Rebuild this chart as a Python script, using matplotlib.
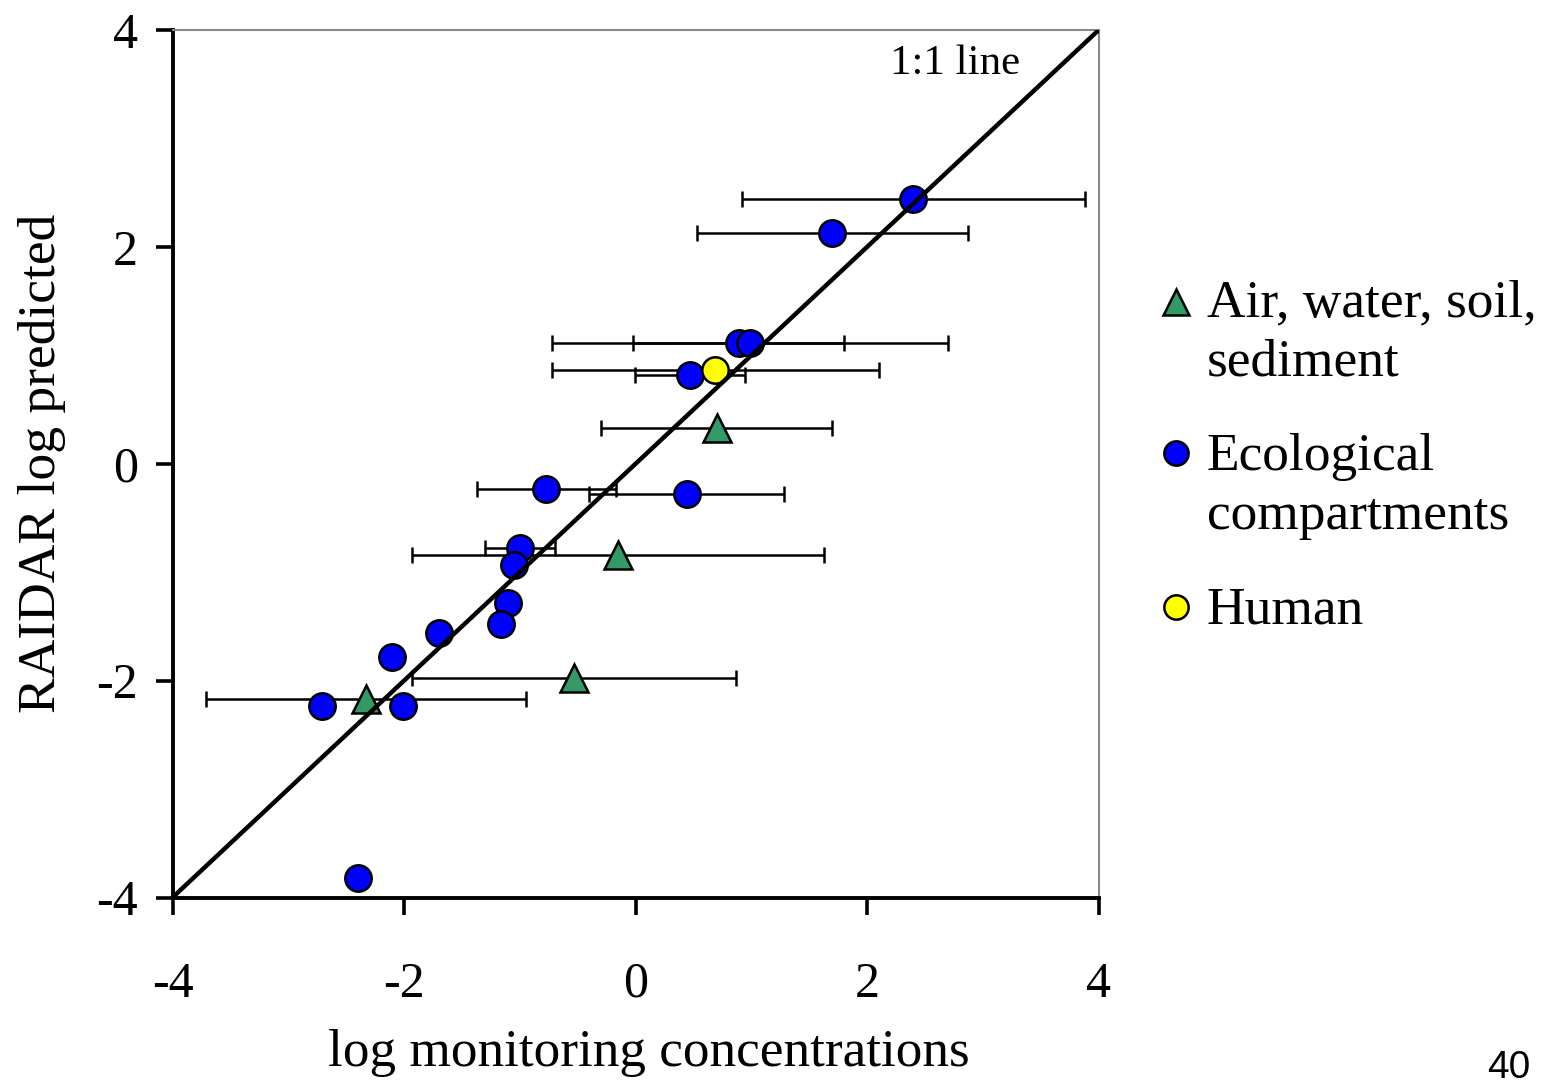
import matplotlib
matplotlib.use("Agg")
import matplotlib.pyplot as plt
import numpy as np

plt.rcParams['font.family'] = ['Liberation Serif', 'DejaVu Serif']
plt.rcParams['axes.unicode_minus'] = False

# Ecological compartments (blue circles)
eco_x = [2.40, 1.70, 0.89, 0.99, 0.47, -0.77, 0.44, -1.00, -1.05, -1.10, -1.16, -1.70, -2.10, -2.71, -2.01, -2.40]
eco_y = [2.44, 2.13, 1.11, 1.11, 0.82, -0.23, -0.28, -0.78, -0.93, -1.28, -1.48, -1.56, -1.78, -2.23, -2.23, -3.82]
eco_xerr = [1.48, 1.17, 0.91, 1.71, 0.475, 0.60, 0.84, 0.30, 0, 0, 0, 0, 0, 0, 0, 0]

# Air, water, soil, sediment (green triangles)
env_x = [0.70, -0.155, -0.53, -2.33]
env_y = [0.33, -0.84, -1.98, -2.17]
env_xerr = [1.00, 1.78, 1.40, 1.38]

# Human (yellow circle)
hum_x = [0.69]
hum_y = [0.865]
hum_xerr = [1.41]

legend_labels = ["Air, water, soil,\nsediment", "Ecological\ncompartments", "Human"]
ticks = [-4, -2, 0, 2, 4]

fig = plt.figure(figsize=(15.5, 10.83), dpi=100)
ax = fig.add_axes([172.5/1550, 1 - 897.5/1083, (1098.7-172.5)/1550, (897.5-30)/1083])

eb_kw = dict(fmt='none', ecolor='black', elinewidth=1.8, capsize=6, capthick=1.8, zorder=2)
def plot_err(x, y, xe):
    for xi, yi, ei in zip(x, y, xe):
        if ei > 0:
            ax.errorbar([xi], [yi], xerr=[ei], **eb_kw)

plot_err(eco_x, eco_y, eco_xerr)
plot_err(env_x, env_y, env_xerr)
plot_err(hum_x, hum_y, hum_xerr)

ax.plot(eco_x, eco_y, 'o', ms=19, mfc='#0000FF', mec='black', mew=1.8, zorder=3, ls='none')
ax.plot(env_x, env_y, '^', ms=19.5, mfc='#339966', mec='black', mew=1.8, zorder=3, ls='none')
ax.plot(hum_x, hum_y, 'o', ms=19, mfc='#FFFF00', mec='black', mew=1.8, zorder=3, ls='none')

ax.plot([-4, 4], [-4, 4], color='black', lw=3.2, zorder=4, solid_capstyle='butt')
ax.text(3.32, 3.69, "1:1 line", fontsize=31, ha='right', va='center')

ax.set_xlim(-4, 4)
ax.set_ylim(-4, 4)
ax.set_xticks(ticks)
ax.set_yticks(ticks)
ax.set_xticklabels([str(t) for t in ticks])
ax.set_yticklabels([str(t) for t in ticks])
ax.tick_params(axis='both', direction='out', length=12, width=2.6, labelsize=36)
ax.tick_params(axis='x', pad=34)
ax.tick_params(axis='y', pad=13)
for s in ['left', 'bottom']:
    ax.spines[s].set_linewidth(2.8)
    ax.spines[s].set_color('black')
for s in ['top', 'right']:
    ax.spines[s].set_linewidth(1.5)
    ax.spines[s].set_color('#888888')

ax.set_xlabel("log monitoring concentrations", fontsize=38.3)
ax.set_ylabel("RAIDAR log predicted", fontsize=38.5, labelpad=22)
ax.xaxis.set_label_coords(0.514, -0.179, transform=ax.transAxes)
ax.xaxis.label.set_va('center')

# Legend (manual)
leg_markers = [('^', '#339966'), ('o', '#0000FF'), ('o', '#FFFF00')]
first_baselines = [316.7, 470, 623]
marker_y = [301.7, 453.3, 606.7]
for (m, c), lab, b, my in zip(leg_markers, legend_labels, first_baselines, marker_y):
    ms = 17.5 if m == 'o' else 18.5
    fig.add_artist(plt.Line2D([1176/1550], [1 - my/1083], marker=m, ms=ms, mfc=c, mec='black',
                              mew=1.8, ls='none', transform=fig.transFigure))
    for k, line in enumerate(lab.split('\n')):
        fig.text(1207/1550, 1 - (b + 59.3*k)/1083, line, fontsize=38.4, ha='left', va='baseline')

fig.text(1530/1550, 1 - 1078/1083, "40", fontsize=28, family='Liberation Sans', ha='right', va='baseline')

fig.savefig("out.png", dpi=100)
